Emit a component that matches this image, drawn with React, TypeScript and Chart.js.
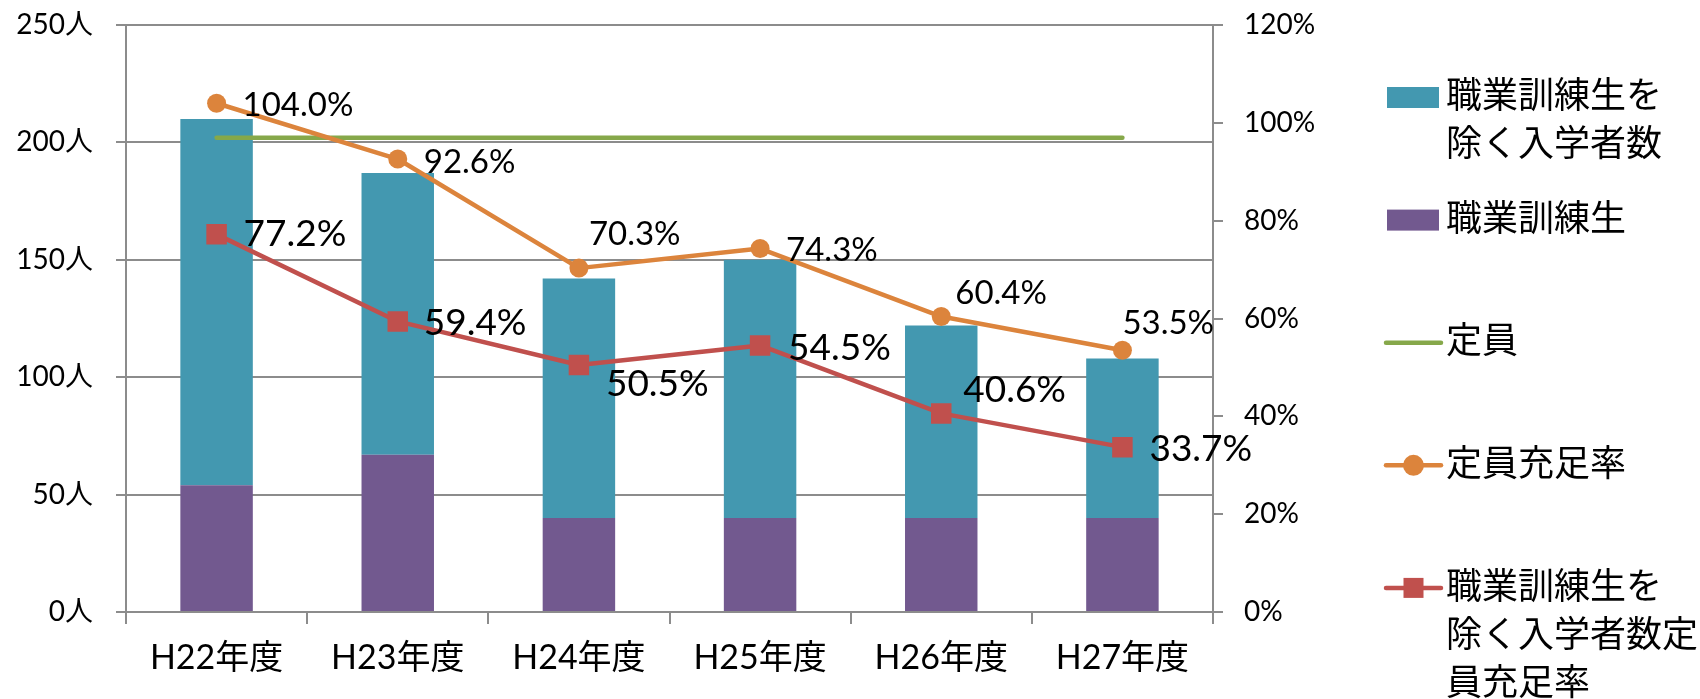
import { useEffect, useRef } from "react";
import { Chart, registerables } from "chart.js";

Chart.register(...registerables);

// ---- data ----
const categories = ["H22年度", "H23年度", "H24年度", "H25年度", "H26年度", "H27年度"];
const nonTraineeEnrolled = [156, 120, 102, 110, 82, 68];
const trainees = [54, 67, 40, 40, 40, 40];
const capacity = [202, 202, 202, 202, 202, 202];
const fillRate = [104.0, 92.6, 70.3, 74.3, 60.4, 53.5];
const nonTraineeFillRate = [77.2, 59.4, 50.5, 54.5, 40.6, 33.7];
const seriesNames = [
  "職業訓練生を除く入学者数",
  "職業訓練生",
  "定員",
  "定員充足率",
  "職業訓練生を除く入学者数定員充足率",
];
const legendLines = [
  ["職業訓練生を", "除く入学者数"],
  ["職業訓練生"],
  ["定員"],
  ["定員充足率"],
  ["職業訓練生を", "除く入学者数定", "員充足率"],
];
const leftAxis = { min: 0, max: 250, step: 50, unit: "人" };
const rightAxis = { min: 0, max: 120, step: 20, unit: "%" };

// ---- style ----
const FONT = "Lato, 'Noto Sans CJK JP', sans-serif";
const CJK = "'Noto Sans CJK JP', sans-serif";
const GRID = "#8c8c8c";
const TEAL = "#4398b0";
const PURPLE = "#72598f";
const GREEN = "#86a84a";
const ORANGE = "#dc843c";
const RED = "#c0504d";

const labelPlugin = {
  id: "pointLabels",
  afterDatasetsDraw(chart: any, _args: any, opts: any) {
    const ctx = chart.ctx;
    (opts.items || []).forEach((item: any) => {
      const meta = chart.getDatasetMeta(item.datasetIndex);
      const ds = chart.data.datasets[item.datasetIndex];
      ctx.save();
      ctx.font = `${item.size}px ${FONT}`;
      ctx.fillStyle = "#000";
      ctx.textAlign = "left";
      ctx.textBaseline = "middle";
      meta.data.forEach((pt: any, i: number) => {
        const [dx, dy] = item.offsets[i];
        ctx.fillText(Number(ds.data[i]).toFixed(1) + "%", pt.x + dx, pt.y + dy);
      });
      ctx.restore();
    });
  },
};

const legendPlugin = {
  id: "sideLegend",
  afterDraw(chart: any, _args: any, opts: any) {
    const ctx = chart.ctx;
    ctx.save();
    ctx.textAlign = "left";
    ctx.textBaseline = "middle";
    (opts.items || []).forEach((it: any, k: number) => {
      const ds = chart.data.datasets[it.datasetIndex];
      const cy = opts.top + k * opts.spacing;
      const mx = opts.markerX;
      if (ds.type === "bar") {
        ctx.fillStyle = ds.backgroundColor;
        ctx.fillRect(mx + 1, cy - 10.5, 52, 21);
      } else {
        ctx.strokeStyle = ds.borderColor;
        ctx.lineWidth = ds.borderWidth;
        ctx.lineCap = "round";
        ctx.beginPath();
        ctx.moveTo(mx, cy);
        ctx.lineTo(mx + 55, cy);
        ctx.stroke();
        ctx.fillStyle = ds.borderColor;
        if (ds.pointStyle === "circle" && ds.pointRadius > 0) {
          ctx.beginPath();
          ctx.arc(mx + 27.5, cy, 10.5, 0, Math.PI * 2);
          ctx.fill();
        } else if (ds.pointStyle === "rect" && ds.pointRadius > 0) {
          ctx.fillRect(mx + 17.5, cy - 10, 20, 20);
        }
      }
      ctx.fillStyle = "#000";
      ctx.font = `${opts.fontSize}px ${CJK}`;
      it.lines.forEach((ln: string, j: number) => {
        ctx.fillText(ln, opts.textX, cy + opts.textDy + j * opts.lineHeight);
      });
    });
    ctx.restore();
  },
};

export default function App() {
  const ref = useRef<HTMLCanvasElement | null>(null);

  useEffect(() => {
    if (!ref.current) return;
    const chart = new Chart(ref.current, {
      type: "bar",
      data: {
        labels: categories,
        datasets: [
          {
            type: "bar",
            label: seriesNames[1],
            data: trainees,
            backgroundColor: PURPLE,
            stack: "enroll",
            yAxisID: "y",
            order: 3,
            barPercentage: 0.4,
            categoryPercentage: 1,
          },
          {
            type: "bar",
            label: seriesNames[0],
            data: nonTraineeEnrolled,
            backgroundColor: TEAL,
            stack: "enroll",
            yAxisID: "y",
            order: 4,
            barPercentage: 0.4,
            categoryPercentage: 1,
          },
          {
            type: "line",
            label: seriesNames[2],
            data: capacity,
            borderColor: GREEN,
            backgroundColor: GREEN,
            borderWidth: 4.5,
            borderCapStyle: "round",
            pointRadius: 0,
            pointStyle: "circle",
            stack: "capacity",
            yAxisID: "y",
            order: 2,
            tension: 0,
          },
          {
            type: "line",
            label: seriesNames[3],
            data: fillRate,
            borderColor: ORANGE,
            backgroundColor: ORANGE,
            borderWidth: 4.5,
            borderJoinStyle: "round",
            pointStyle: "circle",
            pointRadius: 9.5,
            pointBorderWidth: 0,
            pointBackgroundColor: ORANGE,
            yAxisID: "y1",
            order: 1,
            tension: 0,
          },
          {
            type: "line",
            label: seriesNames[4],
            data: nonTraineeFillRate,
            borderColor: RED,
            backgroundColor: RED,
            borderWidth: 4.5,
            borderJoinStyle: "round",
            pointStyle: "rect",
            pointRadius: 14.5,
            pointBorderWidth: 0,
            pointBackgroundColor: RED,
            yAxisID: "y1",
            order: 0,
            tension: 0,
          },
        ],
      } as any,
      options: {
        responsive: false,
        animation: false,
        events: [],
        layout: { padding: { top: 25, left: 0, right: 0, bottom: 0 } },
        plugins: {
          legend: { display: false },
          tooltip: { enabled: false },
          pointLabels: {
            items: [
              {
                datasetIndex: 3,
                size: 33,
                offsets: [[26, 2], [26, 3], [10, -34], [26, 2], [14, -23], [0, -27]],
              },
              {
                datasetIndex: 4,
                size: 37,
                offsets: [[27, 0], [26, 2], [27, 19], [28, 3], [22, -23], [27, 2]],
              },
            ],
          },
          sideLegend: {
            items: [
              { datasetIndex: 1, lines: legendLines[0] },
              { datasetIndex: 0, lines: legendLines[1] },
              { datasetIndex: 2, lines: legendLines[2] },
              { datasetIndex: 3, lines: legendLines[3] },
              { datasetIndex: 4, lines: legendLines[4] },
            ],
            top: 97.5,
            spacing: 122.6,
            markerX: 1386,
            textX: 1446,
            textDy: -3,
            fontSize: 36,
            lineHeight: 48,
          },
        } as any,
        scales: {
          x: {
            stacked: true,
            grid: {
              offset: true,
              drawOnChartArea: false,
              drawTicks: true,
              tickLength: 12,
              color: GRID,
              lineWidth: 2,
            },
            border: { display: true, color: GRID, width: 2 },
            ticks: {
              font: { family: FONT, size: 34 },
              color: "#000",
              padding: 14,
              maxRotation: 0,
              autoSkip: false,
            },
            afterFit: (s: any) => {
              s.height = 87;
            },
          },
          y: {
            position: "left",
            stacked: true,
            min: leftAxis.min,
            max: leftAxis.max,
            ticks: {
              stepSize: leftAxis.step,
              callback: (v: any) => v + leftAxis.unit,
              font: { family: FONT, size: 28 },
              color: "#000",
              padding: 23,
            },
            grid: { color: GRID, lineWidth: 2, tickLength: 10 },
            border: { display: true, color: GRID, width: 2 },
            afterFit: (s: any) => {
              s.width = 126;
              s.paddingTop = 0;
              s.paddingBottom = 0;
            },
          },
          y1: {
            position: "right",
            min: rightAxis.min,
            max: rightAxis.max,
            ticks: {
              stepSize: rightAxis.step,
              callback: (v: any) => v + rightAxis.unit,
              font: { family: FONT, size: 28 },
              color: "#000",
              padding: 21,
            },
            grid: { drawOnChartArea: false, color: GRID, lineWidth: 2, tickLength: 10 },
            border: { display: true, color: GRID, width: 2 },
            afterFit: (s: any) => {
              s.width = 487;
              s.paddingTop = 0;
              s.paddingBottom = 0;
            },
          },
        } as any,
      },
      plugins: [labelPlugin, legendPlugin],
    });
    return () => chart.destroy();
  }, []);

  return (
    <div
      style={{
        position: "fixed",
        left: 0,
        top: 0,
        width: 1700,
        height: 699,
        background: "#fff",
        overflow: "hidden",
      }}
    >
      <canvas ref={ref} width={1700} height={699} style={{ display: "block" }} />
    </div>
  );
}
